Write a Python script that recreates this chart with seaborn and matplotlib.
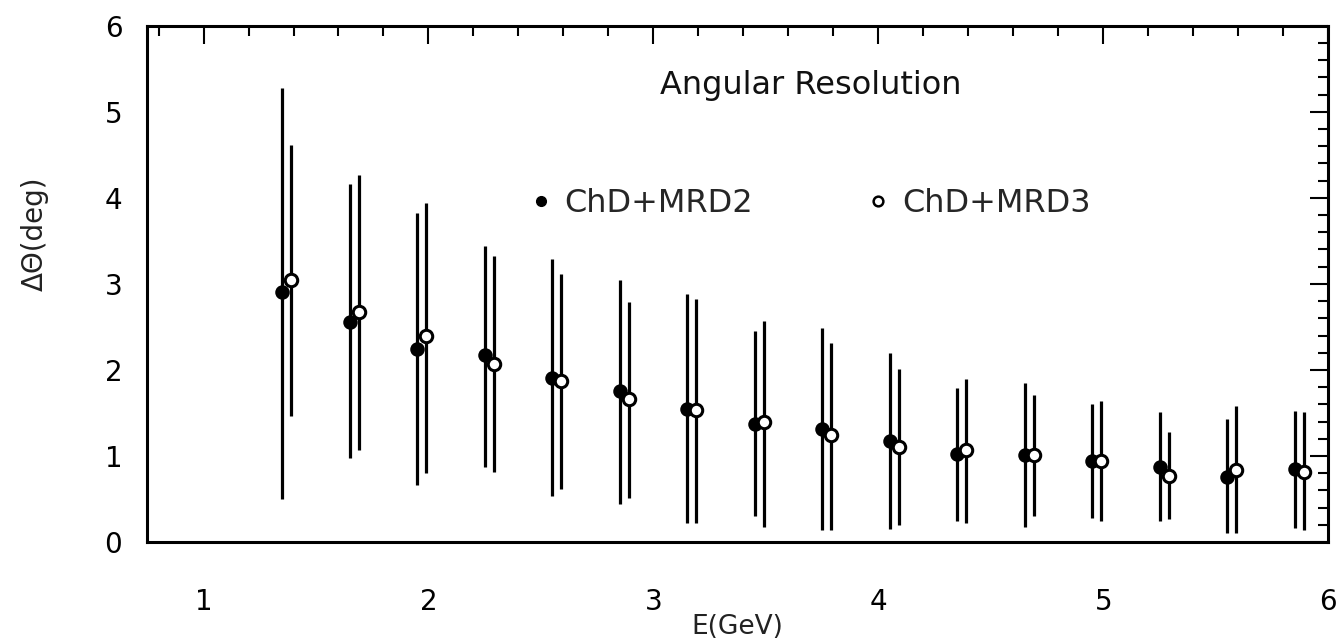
import matplotlib
matplotlib.use("Agg")
import matplotlib.pyplot as plt
import seaborn as sns
import pandas as pd
from matplotlib.ticker import MultipleLocator
from matplotlib.lines import Line2D

# ChD+MRD2 (filled)
e_mrd2 = [1.35, 1.65, 1.95, 2.25, 2.55, 2.85, 3.15, 3.45, 3.75, 4.05, 4.35, 4.65, 4.95, 5.25, 5.55, 5.85]
res_mrd2 = [2.90, 2.56, 2.24, 2.17, 1.91, 1.76, 1.55, 1.37, 1.31, 1.18, 1.02, 1.01, 0.94, 0.87, 0.76, 0.85]
hi_mrd2 = [5.28, 4.16, 3.82, 3.44, 3.29, 3.05, 2.88, 2.45, 2.49, 2.20, 1.79, 1.85, 1.60, 1.51, 1.43, 1.52]
lo_mrd2 = [0.50, 0.98, 0.66, 0.87, 0.53, 0.44, 0.22, 0.30, 0.14, 0.15, 0.24, 0.18, 0.28, 0.24, 0.10, 0.16]

# ChD+MRD3 (open)
e_mrd3 = [1.39, 1.69, 1.99, 2.29, 2.59, 2.89, 3.19, 3.49, 3.79, 4.09, 4.39, 4.69, 4.99, 5.29, 5.59, 5.89]
res_mrd3 = [3.04, 2.67, 2.39, 2.07, 1.87, 1.66, 1.53, 1.40, 1.24, 1.11, 1.07, 1.01, 0.94, 0.77, 0.84, 0.81]
hi_mrd3 = [4.61, 4.26, 3.94, 3.32, 3.12, 2.79, 2.83, 2.57, 2.31, 2.01, 1.90, 1.71, 1.64, 1.28, 1.58, 1.51]
lo_mrd3 = [1.46, 1.07, 0.80, 0.81, 0.62, 0.51, 0.22, 0.18, 0.14, 0.20, 0.22, 0.30, 0.24, 0.27, 0.10, 0.14]

x_ticks = [1, 2, 3, 4, 5, 6]
y_ticks = [0, 1, 2, 3, 4, 5, 6]

sns.set_theme(style="white")
plt.rcParams['font.family'] = ['DejaVu Sans']

fig = plt.figure(figsize=(13.39, 6.43), dpi=100)
ax = fig.add_axes([0.11, 0.157, 0.882, 0.803])

df2 = pd.DataFrame({"E": e_mrd2, "res": res_mrd2, "hi": hi_mrd2, "lo": lo_mrd2})
df3 = pd.DataFrame({"E": e_mrd3, "res": res_mrd3, "hi": hi_mrd3, "lo": lo_mrd3})

for df in (df2, df3):
    ax.vlines(df["E"], df["lo"], df["hi"], color="black", linewidth=2.3, zorder=2)

sns.scatterplot(data=df2, x="E", y="res", ax=ax, marker="o", s=80,
                color="black", edgecolor="black", linewidth=1.5, zorder=3, legend=False)
sns.scatterplot(data=df3, x="E", y="res", ax=ax, marker="o", s=80,
                facecolor="white", edgecolor="black", linewidth=2.2, zorder=4, legend=False)

ax.set_xlim(0.75, 6.0)
ax.set_ylim(0, 6)
ax.set_xticks(x_ticks)
ax.set_yticks(y_ticks)
ax.xaxis.set_minor_locator(MultipleLocator(0.2))
ax.yaxis.set_minor_locator(MultipleLocator(0.2))
ax.tick_params(which="both", direction="in", top=True, right=True, colors="black")
ax.tick_params(which="major", length=13, width=1.5)
ax.tick_params(which="minor", length=7, width=1.5)
ax.tick_params(axis="x", which="major", labelsize=20, pad=33)
ax.tick_params(axis="y", which="major", labelsize=20, pad=18)
for s in ax.spines.values():
    s.set_color("black")
    s.set_linewidth(2.2)
ax.grid(False)

ax.set_xlabel("E(GeV)", fontsize=19, color="#222222")
ax.set_ylabel("ΔΘ(deg)", fontsize=20, color="#222222")
ax.xaxis.set_label_coords(0.5, -0.14)
ax.yaxis.set_label_coords(-0.083, 0.598)

ax.text(3.70, 5.31, "Angular Resolution", fontsize=23, ha="center", va="center", color="#111111")

handles = [
    Line2D([], [], linestyle="none", marker="o", markersize=7, markerfacecolor="black",
           markeredgecolor="black"),
    Line2D([], [], linestyle="none", marker="o", markersize=7, markerfacecolor="white",
           markeredgecolor="black", markeredgewidth=1.8),
]
ax.legend(handles, ["ChD+MRD2", "ChD+MRD3"], ncol=2, frameon=False, fontsize=23,
          loc="center left", bbox_to_anchor=(0.298, 0.655), handletextpad=0.35,
          columnspacing=3.5, handlelength=0.8)

fig.savefig("out.png", dpi=100, facecolor="white")
